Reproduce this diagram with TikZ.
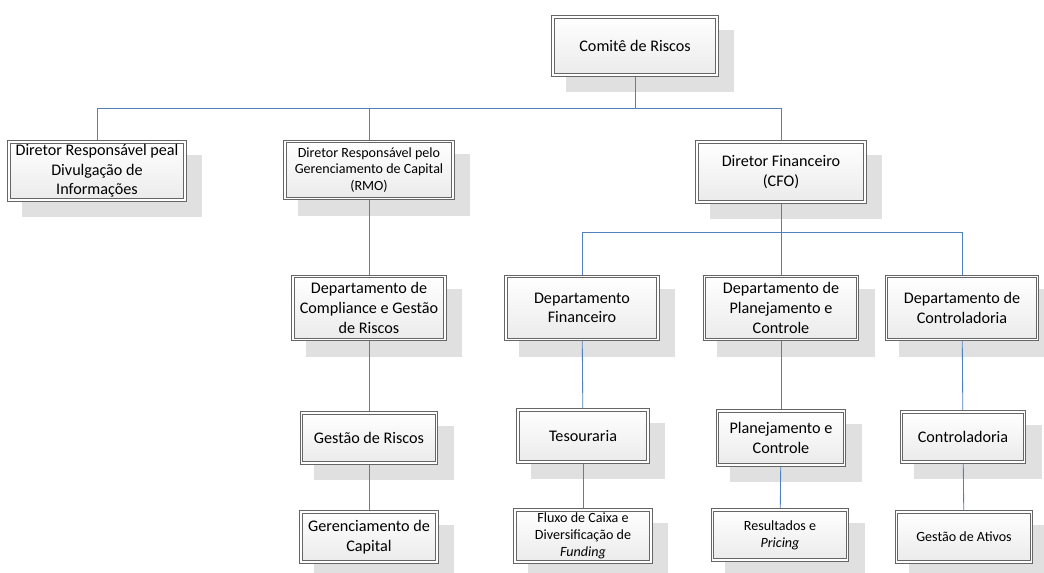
\documentclass[tikz,border=0pt]{standalone}
\usepackage{fontspec}
\setmainfont{Carlito}
\usepackage{xcolor}
\usepackage{tikz}
\usetikzlibrary{calc, backgrounds}

\definecolor{linkblue}{RGB}{79,129,189}
\definecolor{shadegray}{RGB}{224,224,224}

\tikzset{
  orgbox/.style={draw=black!60, line width=0.45pt, double=white, double distance=1.3pt,
    top color=white, bottom color=black!8, align=center, inner sep=1pt,
    font=\fontsize{11.5}{14}\selectfont},
  smallbox/.style={orgbox, font=\fontsize{10}{12}\selectfont},
  link/.style={linkblue, line width=0.6pt}
}

\begin{document}
\begin{tikzpicture}[x=0.025cm, y=0.025cm]

\useasboundingbox (0,0) rectangle (1044,-572);

%-- top level
\node[orgbox, minimum width=164*0.025cm, minimum height=58*0.025cm] (comite) at (635,-46) {Comitê de Riscos};

%-- directors
\node[orgbox, minimum width=176*0.025cm, minimum height=58*0.025cm] (dirdiv) at (97,-171)
  {Diretor Responsável peal\\Divulgação de\\Informações};
\node[smallbox, minimum width=168*0.025cm, minimum height=57*0.025cm] (dirrmo) at (369,-170)
  {Diretor Responsável pelo\\Gerenciamento de Capital\\(RMO)};
\node[orgbox, minimum width=168*0.025cm, minimum height=60*0.025cm] (cfo) at (781,-172)
  {Diretor Financeiro\\(CFO)};

%-- departments
\node[orgbox, minimum width=152*0.025cm, minimum height=63*0.025cm] (dcomp) at (369,-308)
  {Departamento de\\Compliance e Gestão\\de Riscos};
\node[orgbox, minimum width=152*0.025cm, minimum height=63*0.025cm] (dfin) at (582,-308)
  {Departamento\\Financeiro};
\node[orgbox, minimum width=153*0.025cm, minimum height=63*0.025cm] (dplan) at (781,-308)
  {Departamento de\\Planejamento e\\Controle};
\node[orgbox, minimum width=151*0.025cm, minimum height=63*0.025cm] (dctrl) at (962,-308)
  {Departamento de\\Controladoria};

%-- areas
\node[orgbox, minimum width=135*0.025cm, minimum height=50*0.025cm] (grisk) at (369,-438) {Gestão de Riscos};
\node[orgbox, minimum width=130*0.025cm, minimum height=52*0.025cm] (tes) at (583,-436) {Tesouraria};
\node[orgbox, minimum width=127*0.025cm, minimum height=54*0.025cm] (plc) at (781,-438) {Planejamento e\\Controle};
\node[orgbox, minimum width=123*0.025cm, minimum height=50*0.025cm] (ctrl) at (963,-437) {Controladoria};

%-- functions
\node[orgbox, minimum width=136*0.025cm, minimum height=50*0.025cm] (gcap) at (369,-537) {Gerenciamento de\\Capital};
\node[smallbox, minimum width=136*0.025cm, minimum height=52*0.025cm] (flux) at (583,-536)
  {Fluxo de Caixa e\\Diversificação de\\\textit{Funding}};
\node[smallbox, minimum width=135*0.025cm, minimum height=50*0.025cm] (resp) at (780,-535)
  {Resultados e\\\textit{Pricing}};
\node[smallbox, minimum width=135*0.025cm, minimum height=50*0.025cm] (gat) at (964,-537) {Gestão de Ativos};

%-- shadows behind the boxes
\begin{scope}[on background layer]
  \foreach \n in {comite,dirdiv,dirrmo,cfo,dcomp,dfin,dplan,dctrl,grisk,tes,plc,ctrl,gcap,flux,resp,gat}
    \fill[shadegray] ($(\n.south west)+(13,-17)$) rectangle ($(\n.north east)+(17,-13)$);
\end{scope}

%-- bus lines
\coordinate (bustop) at (635,-108);
\coordinate (buscfo) at (781,-232);

\begin{scope}[on background layer]
\draw[link] (comite) -- (bustop);
\foreach \n in {dirdiv,dirrmo,cfo}
  \draw[link] (bustop) -| (\n.north);
\draw[link] (cfo) -- (buscfo);
\foreach \n in {dfin,dplan,dctrl}
  \draw[link] (buscfo) -| (\n.north);

%-- vertical chains
\foreach \a/\b in {dirrmo/dcomp,dcomp/grisk,grisk/gcap,dfin/tes,tes/flux,dplan/plc,plc/resp,dctrl/ctrl,ctrl/gat}
  \draw[link] (\a) -- (\b);
\end{scope}

\end{tikzpicture}
\end{document}
